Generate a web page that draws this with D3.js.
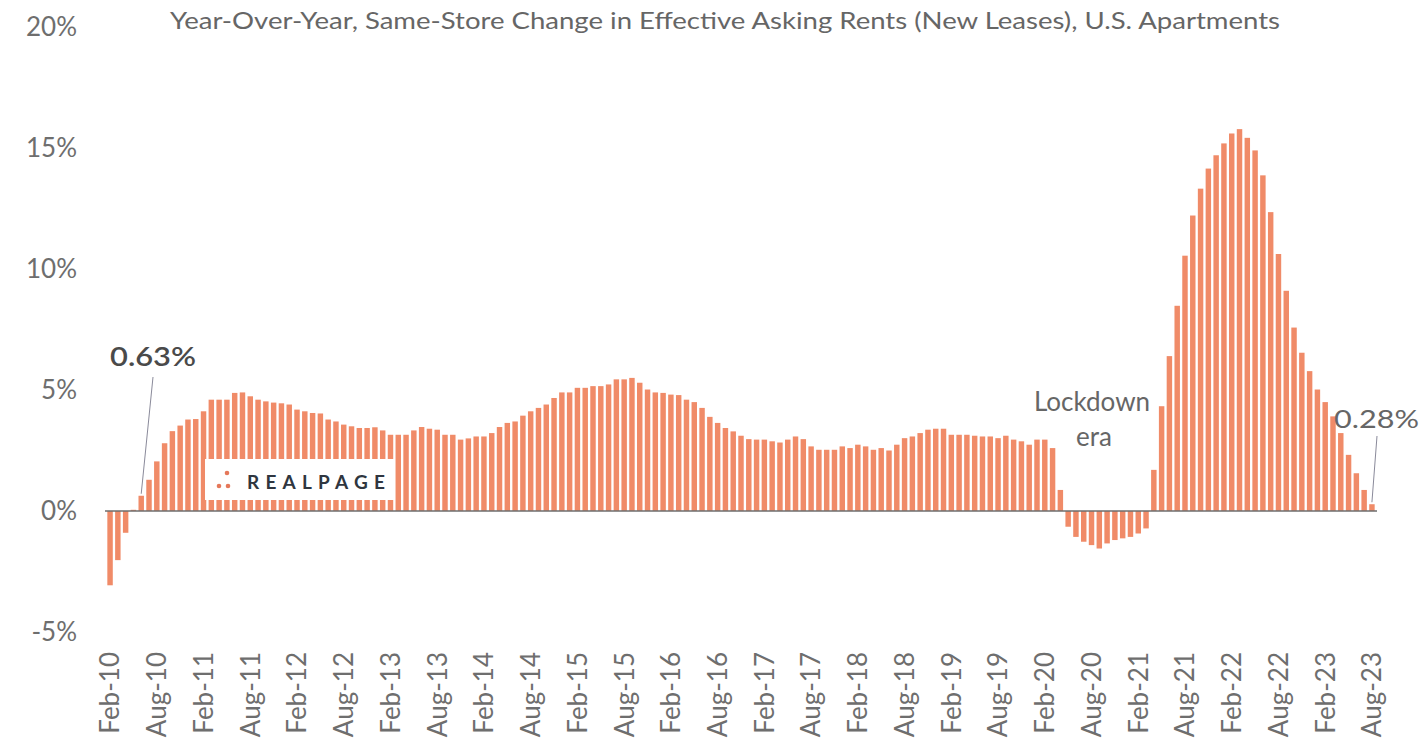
<!DOCTYPE html>
<html>
<head>
<meta charset="utf-8">
<script src="https://cdn.jsdelivr.net/npm/d3@7"></script>
<style>
  html, body { margin: 0; padding: 0; background: #ffffff; }
  svg { display: block; font-family: Lato, "Open Sans", sans-serif; }
</style>
</head>
<body>
<svg id="chart" width="1424" height="756"></svg>
<script>
// Monthly year-over-year change (%) in effective asking rents, Feb 2010 – Aug 2023
const rentChange = [
  -3.07, -2.03, -0.90, 0.05, 0.63, 1.29, 2.05, 2.80, 3.30, 3.53, 3.78, 3.80,
  4.12, 4.60, 4.60, 4.60, 4.88, 4.90, 4.74, 4.60, 4.53, 4.48, 4.45, 4.40,
  4.19, 4.12, 4.05, 4.03, 3.78, 3.70, 3.57, 3.50, 3.43, 3.43, 3.46, 3.33,
  3.15, 3.15, 3.15, 3.33, 3.47, 3.40, 3.36, 3.15, 3.15, 2.95, 3.00, 3.08,
  3.08, 3.22, 3.47, 3.64, 3.70, 3.94, 4.12, 4.26, 4.40, 4.67, 4.90, 4.90,
  5.09, 5.09, 5.16, 5.16, 5.23, 5.44, 5.44, 5.50, 5.30, 5.02, 4.90, 4.88,
  4.81, 4.79, 4.60, 4.50, 4.26, 3.89, 3.64, 3.43, 3.29, 3.11, 2.97, 2.95,
  2.95, 2.88, 2.83, 2.95, 3.08, 2.97, 2.67, 2.53, 2.53, 2.53, 2.67, 2.60,
  2.74, 2.67, 2.53, 2.60, 2.50, 2.74, 3.01, 3.08, 3.22, 3.36, 3.40, 3.40,
  3.15, 3.15, 3.15, 3.11, 3.08, 3.08, 3.01, 3.11, 2.95, 2.88, 2.74, 2.95,
  2.95, 2.60, 0.87, -0.65, -1.07, -1.27, -1.41, -1.55, -1.34, -1.20, -1.13, -1.07,
  -0.93, -0.72, 1.70, 4.33, 6.40, 8.48, 10.55, 12.21, 13.32, 14.15, 14.70, 15.19,
  15.60, 15.78, 15.42, 14.90, 13.87, 12.35, 10.62, 9.10, 7.58, 6.54, 5.78, 5.02,
  4.50, 3.91, 3.22, 2.32, 1.56, 0.87, 0.28
];

const firstMonth = new Date(2010, 1, 1);   // Feb-10
const monthNames = ["Jan","Feb","Mar","Apr","May","Jun","Jul","Aug","Sep","Oct","Nov","Dec"];

const tickLabels = [
  "Feb-10","Aug-10","Feb-11","Aug-11","Feb-12","Aug-12","Feb-13","Aug-13",
  "Feb-14","Aug-14","Feb-15","Aug-15","Feb-16","Aug-16","Feb-17","Aug-17",
  "Feb-18","Aug-18","Feb-19","Aug-19","Feb-20","Aug-20","Feb-21","Aug-21",
  "Feb-22","Aug-22","Feb-23","Aug-23"
];
const yTicks = [-5, 0, 5, 10, 15, 20];

const titleText = "Year-Over-Year, Same-Store Change in Effective Asking Rents (New Leases), U.S. Apartments";

// Annotated points
const callouts = [
  { label: "0.63%", month: "Jun-10", weight: 600 },
  { label: "0.28%", month: "Aug-23", weight: 400 }
];

const months = rentChange.map((_, i) => {
  const d = new Date(firstMonth.getFullYear(), firstMonth.getMonth() + i, 1);
  return monthNames[d.getMonth()] + "-" + String(d.getFullYear()).slice(2);
});
const data = months.map((m, i) => ({ month: m, value: rentChange[i] }));
const valueOf = m => data.find(d => d.month === m).value;

const svg = d3.select("#chart");

const x = d3.scaleBand()
  .domain(months)
  .range([105, 1377])
  .paddingInner(0.3)
  .paddingOuter(0.3);

const y = d3.scaleLinear()
  .domain([-5, 20])
  .range([632, 27]);

const barColor = "#f08b68";
const textColor = "#666666";

// Title
svg.append("text")
  .attr("x", 170)
  .attr("y", 29)
  .attr("textLength", 1110)
  .attr("lengthAdjust", "spacingAndGlyphs")
  .attr("font-size", 23)
  .attr("fill", textColor)
  .text(titleText);

// Bars
svg.append("g")
  .selectAll("rect")
  .data(data)
  .join("rect")
  .attr("x", d => x(d.month))
  .attr("width", x.bandwidth())
  .attr("y", d => y(Math.max(0, d.value)))
  .attr("height", d => Math.abs(y(d.value) - y(0)))
  .attr("fill", barColor);

// Zero baseline
svg.append("line")
  .attr("x1", x.range()[0])
  .attr("x2", x.range()[1])
  .attr("y1", y(0))
  .attr("y2", y(0))
  .attr("stroke", "#6e6e6e")
  .attr("stroke-width", 1.6);

// Y axis
const yAxis = d3.axisLeft(y)
  .tickValues(yTicks)
  .tickFormat(d => d + "%")
  .tickSize(0)
  .tickPadding(0);

svg.append("g")
  .attr("transform", "translate(77,0)")
  .call(yAxis)
  .call(g => g.select(".domain").remove())
  .call(g => g.selectAll("text")
    .attr("font-family", "Lato, sans-serif")
    .attr("font-size", 26)
    .attr("fill", "#6e6e6e"));

// X axis (month labels every six months)
const xAxis = d3.axisBottom(x)
  .tickValues(tickLabels)
  .tickSize(0)
  .tickPadding(0);

svg.append("g")
  .attr("transform", "translate(0,652)")
  .call(xAxis)
  .call(g => g.select(".domain").remove())
  .call(g => g.selectAll("text")
    .attr("font-family", "Lato, sans-serif")
    .attr("font-size", 26)
    .attr("fill", "#6e6e6e")
    .attr("text-anchor", "end")
    .attr("y", 0)
    .attr("dy", "0.36em")
    .attr("transform", "rotate(-90)"));

// Callout labels with leader lines
const c1 = callouts[0];
svg.append("text")
  .attr("x", 110).attr("y", 366)
  .attr("font-size", 26).attr("font-weight", c1.weight)
  .attr("fill", "#4a4a4a")
  .attr("textLength", 86).attr("lengthAdjust", "spacingAndGlyphs")
  .text(c1.label);
svg.append("line")
  .attr("x1", 153).attr("y1", 377)
  .attr("x2", x(c1.month) + x.bandwidth() / 2).attr("y2", y(valueOf(c1.month)) - 2)
  .attr("stroke", "#8a8a9a").attr("stroke-width", 1);

const c2 = callouts[1];
svg.append("text")
  .attr("x", 1334).attr("y", 428)
  .attr("font-size", 25).attr("font-weight", c2.weight)
  .attr("fill", textColor)
  .attr("textLength", 85).attr("lengthAdjust", "spacingAndGlyphs")
  .text(c2.label);
svg.append("line")
  .attr("x1", 1377).attr("y1", 436)
  .attr("x2", x(c2.month) + x.bandwidth() / 2).attr("y2", y(valueOf(c2.month)) - 2)
  .attr("stroke", "#8a8a9a").attr("stroke-width", 1);

// Lockdown annotation
const lockdown = svg.append("text")
  .attr("font-size", 26)
  .attr("fill", textColor)
  .attr("text-anchor", "middle");
lockdown.append("tspan").attr("x", 1092).attr("y", 411).text("Lockdown");
lockdown.append("tspan").attr("x", 1094).attr("y", 446).text("era");

// RealPage logo badge
const logo = svg.append("g");
logo.append("rect")
  .attr("x", 205).attr("y", 459)
  .attr("width", 189).attr("height", 41)
  .attr("fill", "#ffffff");
[[227, 473], [219, 486], [228, 486]].forEach(([cx, cy]) => {
  logo.append("circle").attr("cx", cx).attr("cy", cy).attr("r", 2.3).attr("fill", "#e5785a");
});
logo.append("text")
  .attr("x", 247).attr("y", 489)
  .attr("font-size", 19)
  .attr("font-weight", 700)
  .attr("fill", "#2f3640")
  .attr("textLength", 138).attr("lengthAdjust", "spacing")
  .text("REALPAGE");
</script>
</body>
</html>
